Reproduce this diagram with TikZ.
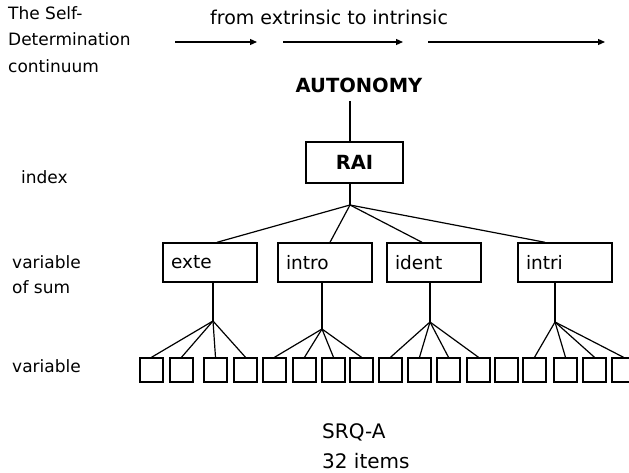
\documentclass[tikz,border=0pt]{standalone}
\usepackage{fontspec}
\setmainfont{DejaVu Sans}
\usetikzlibrary{arrows.meta,calc}

\tikzset{
  lbl/.style={inner sep=0pt, anchor=base west, font=\fontsize{17}{20}\selectfont},
  head/.style={inner sep=0pt, anchor=base west, font=\fontsize{19}{22}\selectfont},
  boldlbl/.style={inner sep=0pt, font=\bfseries\fontsize{19.5}{22}\selectfont},
  sumbox/.style={draw, line width=1.4pt, minimum height=39, text width=78, inner xsep=8, inner ysep=0, align=left, font=\fontsize{18.5}{21}\selectfont},
  leaf/.style={draw, line width=1.4pt, minimum width=23, minimum height=24, inner sep=0pt},
  wire/.style={line width=1.2pt},
  flow/.style={line width=1.2pt, -{Triangle[length=7pt,width=6pt]}}
}

\begin{document}
\begin{tikzpicture}[x=1pt, y=-1pt]
  \clip (0,0) rectangle (629,473);
  \fill[white] (0,0) rectangle (629,473);

  % heading and continuum arrows
  \node[lbl] (t1) at (8,20) {The Self-};
  \node[lbl] (t2) at (8,46) {Determination};
  \node[lbl] (t3) at (8,73) {continuum};
  \node[head] (dir) at (210,25) {from extrinsic to intrinsic};

  \coordinate (a1s) at (175,42); \coordinate (a1e) at (257,42);
  \coordinate (a2s) at (283,42); \coordinate (a2e) at (403,42);
  \coordinate (a3s) at (428,42); \coordinate (a3e) at (605,42);
  \draw[flow] (a1s) -- (a1e);
  \draw[flow] (a2s) -- (a2e);
  \draw[flow] (a3s) -- (a3e);

  % level labels
  \node[lbl] (lidx) at (21,184) {index};
  \node[lbl] (lsum1) at (12,268) {variable};
  \node[lbl] (lsum2) at (12,293) {of sum};
  \node[lbl] (lvar) at (12,372) {variable};

  % top of the hierarchy
  \node[boldlbl, anchor=base] (auto) at (359,93) {AUTONOMY};
  \node[draw, line width=1.4pt, minimum width=97, minimum height=41, inner sep=0pt,
        font=\bfseries\fontsize{19.5}{22}\selectfont] (rai) at (354.5,162.5) {RAI};
  \coordinate (autob) at (350,101);
  \coordinate (rait) at (350,142);
  \coordinate (raib) at (350,183);
  \coordinate (j0) at (350,205);
  \draw[wire] (autob) -- (rait);
  \draw[wire] (raib) -- (j0);

  % variables of sum
  \node[sumbox] (exte)  at (210,262.5) {exte};
  \node[sumbox] (intro) at (325,262.5) {intro};
  \node[sumbox] (ident) at (434,262.5) {ident};
  \node[sumbox] (intri) at (565,262.5) {intri};

  \draw[wire] (j0) -- ($(exte.north)+(7,0)$);
  \draw[wire] (j0) -- ($(intro.north)+(5,0)$);
  \draw[wire] (j0) -- ($(ident.north)+(-12,0)$);
  \draw[wire] (j0) -- ($(intri.north)+(-20,0)$);

  % item squares
  \foreach \x [count=\i] in {140,170,204,234,263,293,322,350,379,408,437,467,495,523,554,583,612}
    \node[leaf] (s\i) at (\x+11.5,370) {};

  % fans from each variable of sum to its items
  \coordinate (j1) at (213,321);
  \coordinate (j2) at (322,329);
  \coordinate (j3) at (430,322);
  \coordinate (j4) at (555,322);
  \draw[wire] (j1 |- exte.south) -- (j1);
  \draw[wire] (j2 |- intro.south) -- (j2);
  \draw[wire] (j3 |- ident.south) -- (j3);
  \draw[wire] (j4 |- intri.south) -- (j4);

  \foreach \k in {1,2,3,4} \draw[wire] (j1) -- (s\k.north);
  \foreach \k in {5,6,7,8} \draw[wire] (j2) -- (s\k.north);
  \foreach \k in {9,10,11,12} \draw[wire] (j3) -- (s\k.north);
  \foreach \k in {14,15,16,17} \draw[wire] (j4) -- (s\k.north);

  % questionnaire caption
  \node[head, font=\fontsize{20}{23}\selectfont] (srq) at (322,438) {SRQ-A};
  \node[head, font=\fontsize{20}{23}\selectfont] (items) at (322,468) {32 items};
\end{tikzpicture}
\end{document}
